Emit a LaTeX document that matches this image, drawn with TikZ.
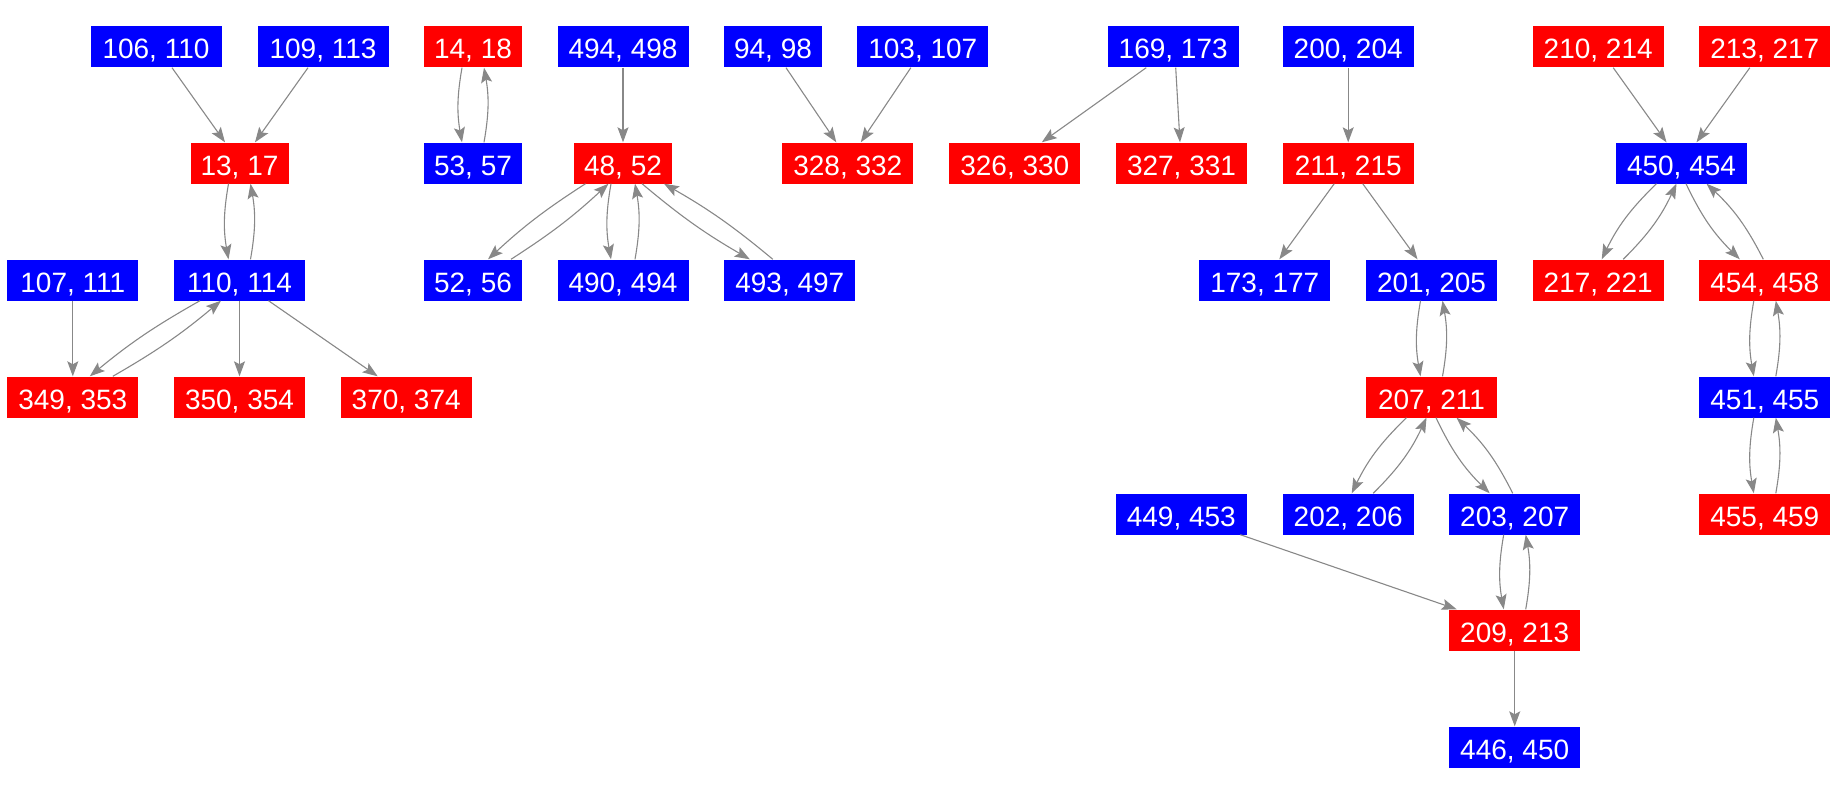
\documentclass[tikz,border=0pt]{standalone}
\usepackage{fontspec}
\setmainfont{Liberation Sans}
\usetikzlibrary{arrows.meta}
\definecolor{NodeBlue}{HTML}{0000FF}
\definecolor{NodeRed}{HTML}{FF0000}
\definecolor{EdgeGray}{HTML}{888888}
\tikzset{
    box/.style={rectangle, inner sep=0pt, minimum width=131pt, minimum height=41pt,
        text=white, text height=30pt, text depth=6pt, font=\fontsize{28pt}{32pt}\selectfont},
    bluebox/.style={box, fill=NodeBlue},
    redbox/.style={box, fill=NodeRed},
    narrow/.style={minimum width=98pt},
    conn/.style={-{Stealth[length=15pt, width=11pt, inset=3pt]}, draw=EdgeGray, line width=1.1pt},
}
\begin{document}
\begin{tikzpicture}[x=1pt, y=-1pt]
    \useasboundingbox (0,0) rectangle (1838,792);

    % left group
    \node[bluebox] (n106) at (156,47) {106, 110};
    \node[bluebox] (n109) at (323,47) {109, 113};
    \node[redbox, narrow] (n13) at (239.5,163) {13, 17};
    \node[bluebox] (n107) at (72.8,280) {107, 111};
    \node[bluebox] (n110) at (239.5,280) {110, 114};
    \node[redbox] (n349) at (72.8,397) {349, 353};
    \node[redbox] (n350) at (239.5,397) {350, 354};
    \node[redbox] (n370) at (406.2,397) {370, 374};

    \draw[conn] ([xshift=16pt]n106.south) -- ([xshift=-14.5pt]n13.north);
    \draw[conn] ([xshift=-15pt]n109.south) -- ([xshift=15.5pt]n13.north);
    \draw[conn] ([xshift=-11pt]n13.south) to[bend right=10] ([xshift=-11pt]n110.north);
    \draw[conn] ([xshift=11pt]n110.north) to[bend right=10] ([xshift=11pt]n13.south);
    \draw[conn] (n107) -- (n349);
    \draw[conn] ([xshift=-39.5pt]n110.south) to[bend right=5] ([xshift=17pt]n349.north);
    \draw[conn] ([xshift=40pt]n349.north) to[bend right=5] ([xshift=-18.5pt]n110.south);
    \draw[conn] (n110) -- (n350);
    \draw[conn] ([xshift=29pt]n110.south) -- ([xshift=-28.5pt]n370.north);

    % middle groups
    \node[redbox, narrow] (n14) at (473,47) {14, 18};
    \node[bluebox] (n494) at (623,47) {494, 498};
    \node[bluebox, narrow] (n94) at (773,47) {94, 98};
    \node[bluebox] (n103) at (922.8,47) {103, 107};
    \node[bluebox, narrow] (n53) at (473,163) {53, 57};
    \node[redbox, narrow] (n48) at (623,163) {48, 52};
    \node[redbox] (n328) at (847.8,163) {328, 332};
    \node[bluebox, narrow] (n52) at (473,280) {52, 56};
    \node[bluebox] (n490) at (623,280) {490, 494};
    \node[bluebox] (n493) at (789.8,280) {493, 497};

    \draw[conn] ([xshift=-11pt]n14.south) to[bend right=10] ([xshift=-11pt]n53.north);
    \draw[conn] ([xshift=11pt]n53.north) to[bend right=10] ([xshift=11pt]n14.south);
    \draw[conn] (n494) -- (n48);
    \draw[conn] ([xshift=-37.5pt]n48.south) to[bend right=5] ([xshift=15pt]n52.north);
    \draw[conn] ([xshift=38pt]n52.north) to[bend right=5] ([xshift=-14.5pt]n48.south);
    \draw[conn] ([xshift=-12pt]n48.south) to[bend right=10] ([xshift=-12pt]n490.north);
    \draw[conn] ([xshift=12pt]n490.north) to[bend right=10] ([xshift=12pt]n48.south);
    \draw[conn] ([xshift=19pt]n48.south) to[bend right=5] ([xshift=-40pt]n493.north);
    \draw[conn] ([xshift=-17pt]n493.north) to[bend right=5] ([xshift=41pt]n48.south);
    \draw[conn] ([xshift=13pt]n94.south) -- ([xshift=-11.5pt]n328.north);
    \draw[conn] ([xshift=-12pt]n103.south) -- ([xshift=13pt]n328.north);

    \node[bluebox] (n169) at (1173.2,47) {169, 173};
    \node[redbox] (n326) at (1014.8,163) {326, 330};
    \node[redbox] (n327) at (1181.5,163) {327, 331};

    \draw[conn] ([xshift=-27pt]n169.south) -- ([xshift=27pt]n326.north);
    \draw[conn] ([xshift=2.5pt]n169.south) -- ([xshift=-1.5pt]n327.north);

    % right-hand tree
    \node[bluebox] (n200) at (1348.2,47) {200, 204};
    \node[redbox] (n211) at (1348.2,163) {211, 215};
    \node[bluebox] (n173) at (1264.8,280) {173, 177};
    \node[bluebox] (n201) at (1431.5,280) {201, 205};
    \node[redbox] (n207) at (1431.5,397) {207, 211};
    \node[bluebox] (n449) at (1181.3,514) {449, 453};
    \node[bluebox] (n202) at (1348.2,514) {202, 206};
    \node[bluebox] (n203) at (1514.7,514) {203, 207};
    \node[redbox] (n209) at (1514.7,630) {209, 213};
    \node[bluebox] (n446) at (1514.7,747) {446, 450};

    \draw[conn] (n200) -- (n211);
    \draw[conn] ([xshift=-14pt]n211.south) -- ([xshift=14.5pt]n173.north);
    \draw[conn] ([xshift=14.5pt]n211.south) -- ([xshift=-14pt]n201.north);
    \draw[conn] ([xshift=-11pt]n201.south) to[bend right=10] ([xshift=-11pt]n207.north);
    \draw[conn] ([xshift=11pt]n207.north) to[bend right=10] ([xshift=11pt]n201.south);
    \draw[conn] ([xshift=-25pt]n207.south) to[bend right=10] ([xshift=3.5pt]n202.north);
    \draw[conn] ([xshift=25pt]n202.north) to[bend right=10] ([xshift=-5pt]n207.south);
    \draw[conn] ([xshift=4.5pt]n207.south) to[bend right=10] ([xshift=-25pt]n203.north);
    \draw[conn] ([xshift=-2pt]n203.north) to[bend right=10] ([xshift=25pt]n207.south);
    \draw[conn] ([xshift=-11pt]n203.south) to[bend right=10] ([xshift=-11pt]n209.north);
    \draw[conn] ([xshift=11pt]n209.north) to[bend right=10] ([xshift=11pt]n203.south);
    \draw[conn] ([xshift=59pt]n449.south) -- ([xshift=-58pt]n209.north);
    \draw[conn] (n209) -- (n446);

    \node[redbox] (n210) at (1598.2,47) {210, 214};
    \node[redbox] (n213) at (1764.8,47) {213, 217};
    \node[bluebox] (n450) at (1681.5,163) {450, 454};
    \node[redbox] (n217) at (1598.2,280) {217, 221};
    \node[redbox] (n454) at (1764.8,280) {454, 458};
    \node[bluebox] (n451) at (1764.8,397) {451, 455};
    \node[redbox] (n455) at (1764.8,514) {455, 459};

    \draw[conn] ([xshift=15pt]n210.south) -- ([xshift=-15pt]n450.north);
    \draw[conn] ([xshift=-15pt]n213.south) -- ([xshift=15pt]n450.north);
    \draw[conn] ([xshift=-25pt]n450.south) to[bend right=10] ([xshift=3.5pt]n217.north);
    \draw[conn] ([xshift=25pt]n217.north) to[bend right=10] ([xshift=-5pt]n450.south);
    \draw[conn] ([xshift=4.5pt]n450.south) to[bend right=10] ([xshift=-25pt]n454.north);
    \draw[conn] ([xshift=-1.5pt]n454.north) to[bend right=10] ([xshift=25pt]n450.south);
    \draw[conn] ([xshift=-11pt]n454.south) to[bend right=10] ([xshift=-11pt]n451.north);
    \draw[conn] ([xshift=11pt]n451.north) to[bend right=10] ([xshift=11pt]n454.south);
    \draw[conn] ([xshift=-11pt]n451.south) to[bend right=10] ([xshift=-11pt]n455.north);
    \draw[conn] ([xshift=11pt]n455.north) to[bend right=10] ([xshift=11pt]n451.south);
\end{tikzpicture}
\end{document}
